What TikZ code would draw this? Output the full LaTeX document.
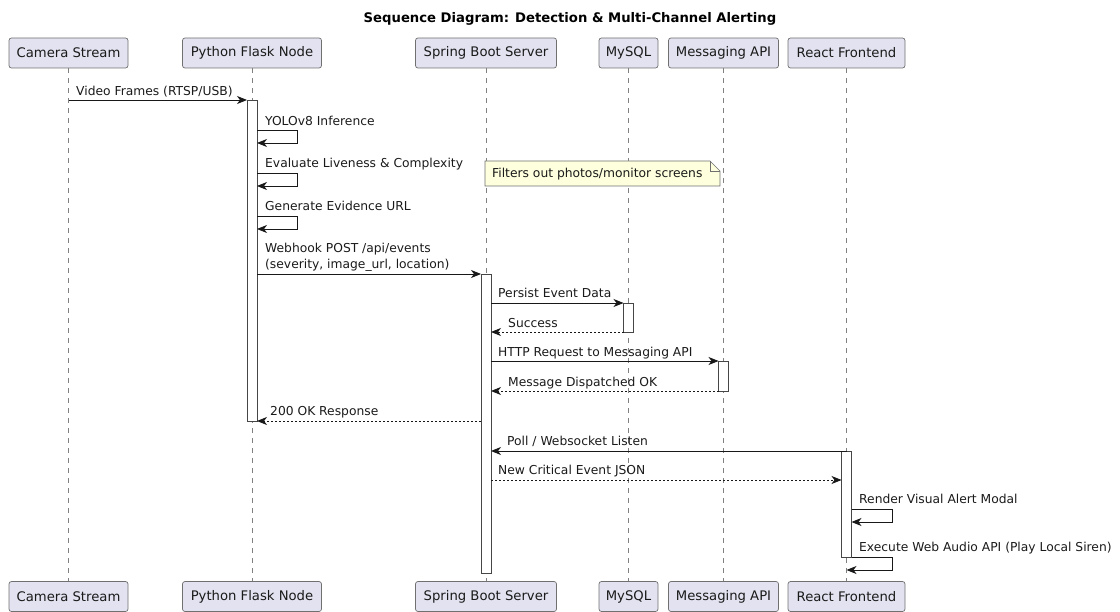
\documentclass[tikz,border=0pt]{standalone}
\usepackage{fontspec}
\setmainfont{DejaVu Sans}
\usetikzlibrary{arrows.meta}
\definecolor{pbg}{HTML}{E2E2F0}
\definecolor{pline}{HTML}{181818}
\definecolor{pborder}{HTML}{707070}
\definecolor{lline}{HTML}{808080}
\definecolor{txt}{HTML}{1A1A1A}
\definecolor{notebg}{HTML}{FEFFDD}
\begin{document}
\begin{tikzpicture}[x=1pt,y=-1pt,
  part/.style={draw=pborder, line width=0.7pt, fill=pbg, rounded corners=2.5pt,
    minimum height=30pt, inner sep=0pt, text=txt, font=\fontsize{13.2}{15}\selectfont},
  life/.style={draw=lline, line width=0.6pt, dash pattern=on 5pt off 5pt},
  actbar/.style={draw=pline!80, line width=0.7pt, fill=white},
  msg/.style={draw=pline, line width=0.9pt, -{Stealth[length=10pt,width=8pt,inset=3pt]}},
  ret/.style={msg, line width=0.8pt, dash pattern=on 2pt off 2pt},
  lbl/.style={font=\fontsize{12.3}{14}\selectfont, anchor=base west, inner sep=0pt, text=txt},
  notebox/.style={draw=pborder, line width=0.6pt, fill=notebg}
]
\useasboundingbox (0,0) rectangle (1120,612);
% title
\node[font=\bfseries\fontsize{13.2}{15}\selectfont] (title) at (570,19) {Sequence Diagram: Detection \& Multi-Channel Alerting};
% participants top
\node[part, minimum width=119pt] (cT) at (68.5,53) {Camera Stream};
\node[part, minimum width=139pt] (pT) at (252,53) {Python Flask Node};
\node[part, minimum width=141pt] (sT) at (486,53) {Spring Boot Server};
\node[part, minimum width=59pt] (mT) at (628.5,53) {MySQL};
\node[part, minimum width=110pt] (aT) at (723.5,53) {Messaging API};
\node[part, minimum width=117pt] (rT) at (846.5,53) {React Frontend};
% participants bottom
\node[part, minimum width=119pt] (cB) at (68.5,596.5) {Camera Stream};
\node[part, minimum width=139pt] (pB) at (252,596.5) {Python Flask Node};
\node[part, minimum width=141pt] (sB) at (486,596.5) {Spring Boot Server};
\node[part, minimum width=59pt] (mB) at (628.5,596.5) {MySQL};
\node[part, minimum width=110pt] (aB) at (723.5,596.5) {Messaging API};
\node[part, minimum width=117pt] (rB) at (846.5,596.5) {React Frontend};
% lifelines
\foreach \p in {c,p,s,m,a,r}{\draw[life] (\p T.south) -- (\p B.north);}
% note
\path[notebox] (485,161) -- (710,161) -- (720,171) -- (720,186) -- (485,186) -- cycle;
\draw[draw=pborder, line width=0.6pt] (710,161) -- (710,171) -- (720,171);
\node[lbl] (note) at (492,177.5) {Filters out photos/monitor screens};
% activations
\draw[actbar] (247,100) rectangle (257,421);
\draw[actbar] (481,274) rectangle (491,573);
\draw[actbar] (623.5,303) rectangle (633.5,332);
\draw[actbar] (718.5,361) rectangle (728.5,391);
\draw[actbar] (841.5,451) rectangle (851.5,557);
% messages
\draw[msg] (68.5,100) -- (247,100);
\node[lbl] at (76,95.5) {Video Frames (RTSP/USB)};

\draw[msg] (257,130) -- (297,130) -- (297,143) -- (257,143);
\node[lbl] at (265,125.5) {YOLOv8 Inference};
\draw[msg] (257,173) -- (297,173) -- (297,186) -- (257,186);
\node[lbl] at (265,167.5) {Evaluate Liveness \& Complexity};
\draw[msg] (257,216) -- (297,216) -- (297,229) -- (257,229);
\node[lbl] at (265,210.5) {Generate Evidence URL};

\draw[msg] (257,274) -- (481,274);
\node[lbl] at (265,252.5) {Webhook POST /api/events};
\node[lbl] at (265,268.5) {(severity, image\_url, location)};

\draw[msg] (491,303) -- (623.5,303);
\node[lbl] at (498,297.5) {Persist Event Data};
\draw[ret] (623.5,332) -- (491,332);
\node[lbl] at (508,327.5) {Success};
\draw[msg] (491,361) -- (718.5,361);
\node[lbl] at (498,356.5) {HTTP Request to Messaging API};
\draw[ret] (718.5,391) -- (491,391);
\node[lbl] at (508,386.5) {Message Dispatched OK};
\draw[ret] (481,421) -- (257,421);
\node[lbl] at (270,415.5) {200 OK Response};

\draw[msg] (846.5,451) -- (491,451);
\node[lbl] at (507,445.5) {Poll / Websocket Listen};
\draw[ret] (491,480) -- (841.5,480);
\node[lbl] at (498,474.5) {New Critical Event JSON};

\draw[msg] (851.5,509) -- (892,509) -- (892,522) -- (851.5,522);
\node[lbl] at (859,503.5) {Render Visual Alert Modal};
\draw[msg] (851.5,557) -- (892,557) -- (892,570) -- (846.5,570);
\node[lbl] at (859,551.5) {Execute Web Audio API (Play Local Siren)};
\end{tikzpicture}
\end{document}
